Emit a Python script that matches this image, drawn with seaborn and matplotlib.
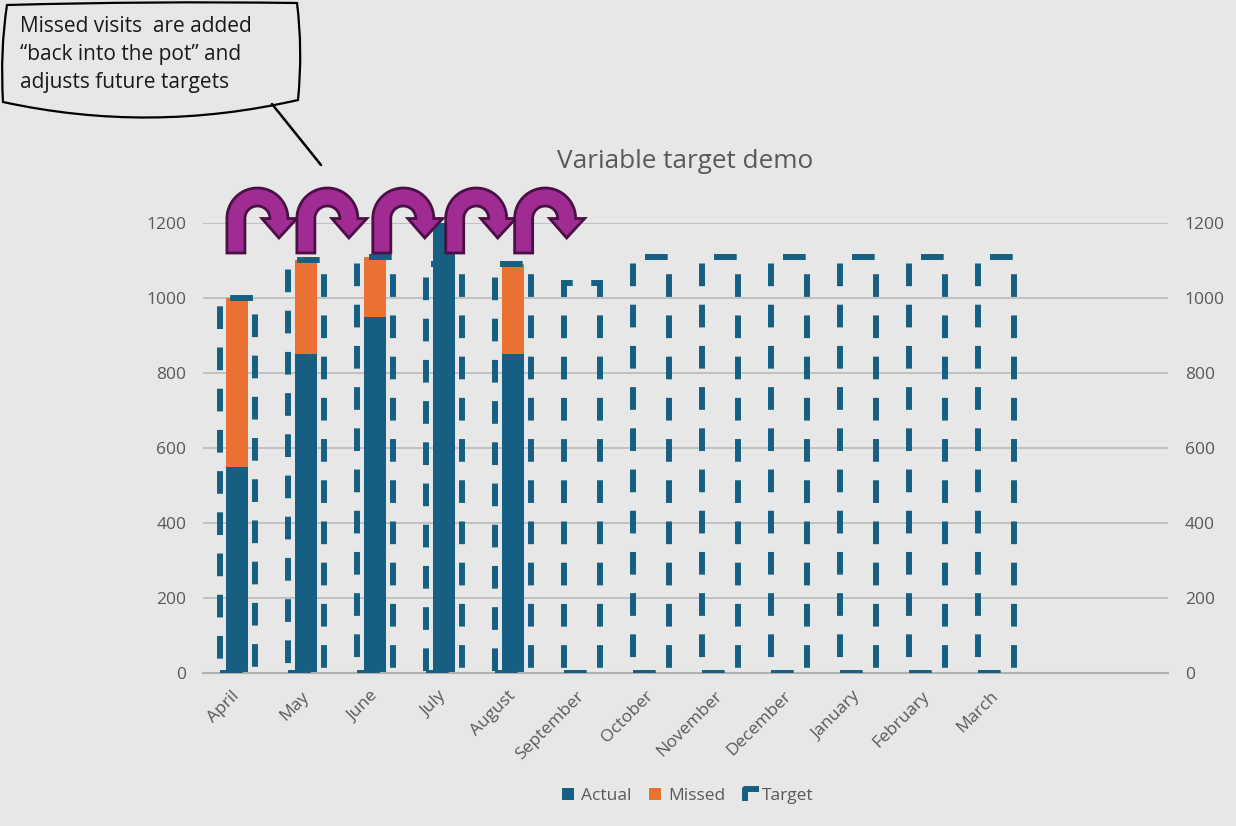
import numpy as np
import pandas as pd
import matplotlib
matplotlib.use("Agg")
import matplotlib.pyplot as plt
import matplotlib.transforms as mtransforms
import seaborn as sns
from matplotlib.path import Path
from matplotlib.patches import PathPatch, Patch
from matplotlib.lines import Line2D
from matplotlib.legend_handler import HandlerBase

# ---- data -------------------------------------------------------------
months = ["April", "May", "June", "July", "August", "September",
          "October", "November", "December", "January", "February", "March"]
actual = [550, 850, 950, 1200, 850, 0, 0, 0, 0, 0, 0, 0]
missed = [450, 250, 160, 0, 240, 0, 0, 0, 0, 0, 0, 0]
target = [1000, 1100, 1110, 1090, 1090, 1040, 1110, 1110, 1110, 1110, 1110, 1110]
y_ticks = [0, 200, 400, 600, 800, 1000, 1200]
legend_labels = ["Actual", "Missed", "Target"]
title = "Variable target demo"
note = "Missed visits  are added\n\u201cback into the pot\u201d and\nadjusts future targets"

# ---- style ------------------------------------------------------------
BLUE = "#156082"
ORANGE = "#E97132"
PURPLE = "#A02B93"
PURPLE_EDGE = "#4A0F45"
BG = "#E7E7E7"
GREY_TEXT = "#595959"
GRID = "#BDBDBD"
TICK_SIZE = 12.5

sns.set_theme(style="white")
plt.rcParams["font.family"] = ["Open Sans", "DejaVu Sans"]

W, H, DPI = 1236, 826, 100
fig = plt.figure(figsize=(W / DPI, H / DPI), dpi=DPI, facecolor=BG)
ax = fig.add_axes([203 / W, 1 - 673 / H, 965 / W, 450 / H])
ax.set_facecolor(BG)

df = pd.DataFrame({"month": months, "actual": actual,
                   "missed": missed, "target": target})
df["total"] = df["actual"] + df["missed"]

# stacked bars: full height (actual + missed) in orange, actual drawn over it
sns.barplot(data=df, x="month", y="total", color=ORANGE, width=0.32,
            linewidth=0, saturation=1, errorbar=None, ax=ax)
sns.barplot(data=df, x="month", y="actual", color=BLUE, width=0.32,
            linewidth=0, saturation=1, errorbar=None, ax=ax)

# target on the secondary axis as dashed, unfilled boxes
ax2 = ax.twinx()
sns.barplot(data=df, x="month", y="target", color=BLUE, fill=False,
            width=0.52, linewidth=4.3, linestyle=(0, (3.8, 3.1)),
            saturation=1, errorbar=None, ax=ax2)

n_slots = len(months) + 2
ax.set_xlim(-0.5, n_slots - 0.5)
for a in (ax, ax2):
    a.set_ylim(0, 1200)
    a.set_yticks(y_ticks)
    a.set_xlabel("")
    a.set_ylabel("")
    for s in a.spines.values():
        s.set_visible(False)
ax.spines["bottom"].set_visible(True)
ax.spines["bottom"].set_color("#B0B0B0")
ax.spines["bottom"].set_linewidth(1.5)

ax.yaxis.grid(True, color=GRID, linewidth=1.3)
ax.set_axisbelow(True)
ax.tick_params(axis="y", length=0, pad=12, labelcolor=GREY_TEXT, labelsize=TICK_SIZE)
ax2.tick_params(axis="y", length=0, pad=12, labelcolor=GREY_TEXT, labelsize=TICK_SIZE)
ax.set_xticks(range(len(months)))
ax.set_xticklabels(months)
ax.tick_params(axis="x", length=0, pad=15, labelcolor=GREY_TEXT, labelsize=TICK_SIZE)
for lbl in ax.get_xticklabels():
    lbl.set_rotation(45)
    lbl.set_ha("right")
    lbl.set_va("center")
    lbl.set_rotation_mode("anchor")

# ---- title --------------------------------------------------------------
fig.text(685 / W, 1 - 161 / H, title, ha="center", va="center",
         fontsize=18.8, color=GREY_TEXT)

# ---- U-turn arrows over the first months -------------------------------
px_x = n_slots / 965.0          # category units per pixel
px_y = 1200 / 450.0             # value units per pixel


def uturn_path(w=18, R=30.5, cy=34.5, head=(35, 70), tip=(52, 15), n=48):
    cx = R
    r = R - w
    verts = [(0, 0), (w, 0), (w, cy)]
    th = np.linspace(np.pi, 0, n)
    verts += list(zip(cx + r * np.cos(th), cy + r * np.sin(th)))
    verts += [(head[0], cy), tip, (head[1], cy), (cx + R, cy)]
    th = np.linspace(0, np.pi, n)
    verts += list(zip(cx + R * np.cos(th), cy + R * np.sin(th)))
    verts += [(0, 0)]
    codes = [Path.MOVETO] + [Path.LINETO] * (len(verts) - 2) + [Path.CLOSEPOLY]
    return Path(verts, codes)


arrow_shift_px = [0.5, 1.5, 8.5, 12.5, 12.5]
base = uturn_path()
for i, shift in enumerate(arrow_shift_px):
    x0 = i - 0.16 + shift * px_x
    y0 = 1200 - 30 * px_y
    tr = mtransforms.Affine2D().scale(px_x, px_y).translate(x0, y0) + ax2.transData
    ax2.add_patch(PathPatch(base, transform=tr, facecolor=PURPLE,
                            edgecolor=PURPLE_EDGE, linewidth=2.0,
                            clip_on=False, zorder=10))

# ---- speech-bubble callout ---------------------------------------------
fig_px = mtransforms.Affine2D().scale(1 / W, -1 / H).translate(0, 1) + fig.transFigure
bubble = Path(
    [(7, 5), (150, 1), (297, 3), (303, 50), (298, 100),
     (150, 134), (3, 102), (0, 50), (7, 5), (7, 5)],
    [Path.MOVETO, Path.CURVE3, Path.CURVE3, Path.CURVE3, Path.CURVE3,
     Path.CURVE3, Path.CURVE3, Path.CURVE3, Path.CURVE3, Path.CLOSEPOLY])
fig.patches.append(PathPatch(bubble, transform=fig_px, facecolor=BG,
                             edgecolor="black", linewidth=1.6))
fig.lines.append(Line2D([272, 321], [104, 165], transform=fig_px,
                        color="black", linewidth=1.8))
fig.text(20 / W, 1 - 16 / H, note, ha="left", va="top", fontsize=15,
         color="#1A1A1A", linespacing=1.45)


# ---- legend -------------------------------------------------------------
class CornerHandler(HandlerBase):
    def create_artists(self, legend, orig_handle, xdescent, ydescent,
                       width, height, fontsize, trans):
        x0, y0 = -xdescent + 1.5, -ydescent - 1
        ln = Line2D([x0, x0, x0 + width + 2], [y0, y0 + height, y0 + height],
                    color=BLUE, linewidth=4.3, solid_joinstyle="round",
                    solid_capstyle="butt", transform=trans)
        return [ln]


target_proxy = Line2D([], [], color=BLUE)
handles = [Patch(facecolor=BLUE, edgecolor="none"),
           Patch(facecolor=ORANGE, edgecolor="none"),
           target_proxy]
fig.legend(handles=handles, labels=legend_labels, loc="center",
           bbox_to_anchor=(688 / W, 1 - 796 / H), ncol=3, frameon=False,
           fontsize=12.5, labelcolor=GREY_TEXT, handlelength=0.65,
           handleheight=0.65, handletextpad=0.45, columnspacing=1.0,
           handler_map={target_proxy: CornerHandler()})

fig.savefig("out.png", dpi=DPI, facecolor=BG)
